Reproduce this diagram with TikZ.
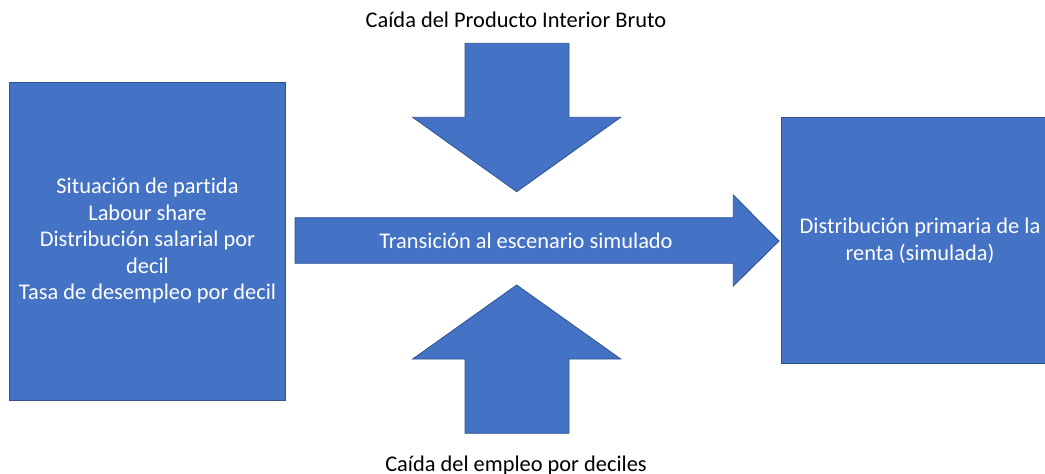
\documentclass[tikz,border=0pt]{standalone}
\usepackage{fontspec}
\setmainfont[Ligatures=NoCommon]{Carlito}
\definecolor{boxblue}{HTML}{4472C4}
\definecolor{edgeblue}{HTML}{2F528F}
\begin{document}
\begin{tikzpicture}[x=1pt,y=-1pt,
  blockshape/.style={fill=boxblue,draw=edgeblue,line width=0.8pt},
  intext/.style={text=white,align=center,font=\fontsize{22.4}{26.5}\selectfont,inner sep=0pt},
  outtext/.style={text=black,align=center,font=\fontsize{22.4}{26.5}\selectfont,inner sep=0pt}]
\useasboundingbox (0,0) rectangle (1045,474);
% left box
\draw[blockshape] (9.5,82) rectangle (285.5,400);
\node[intext] (start) at (147.5,241) {Situación de partida\\Labour share\\Distribución salarial por\\decil\\Tasa de desempleo por decil};
% right box
\draw[blockshape] (781.7,117.3) rectangle (1058,363.3);
\node[intext] (result) at (920,241) {Distribución primaria de la\\renta (simulada)};
% horizontal arrow
\draw[blockshape] (295,217.7) -- (733.3,217.7) -- (733.3,195) -- (779,241) -- (733.3,286) -- (733.3,263.3) -- (295,263.3) -- cycle;
\node[intext] (trans) at (526,241) {Transición al escenario simulado};
% top arrow
\draw[blockshape] (465,43.3) -- (569,43.3) -- (569,117.3) -- (620.7,117.3) -- (516.7,191.7) -- (412.7,117.3) -- (465,117.3) -- cycle;
\node[outtext,anchor=base] (pib) at (516,27) {Caída del Producto Interior Bruto};
% bottom arrow
\draw[blockshape] (465,433.3) -- (569,433.3) -- (569,359) -- (620.7,359) -- (516.7,285) -- (412.7,359) -- (465,359) -- cycle;
\node[outtext,anchor=base] (empleo) at (516,471) {Caída del empleo por deciles};
\end{tikzpicture}
\end{document}
